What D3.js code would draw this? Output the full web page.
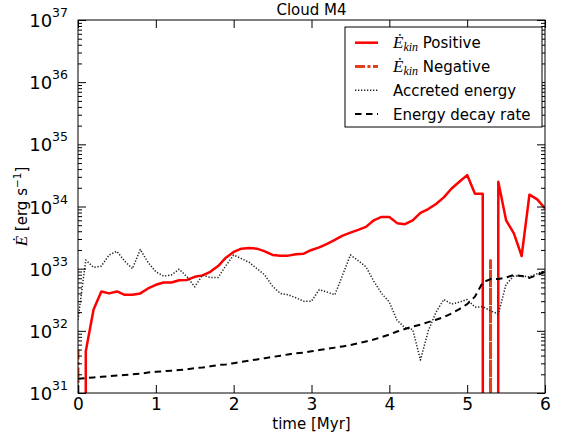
<!DOCTYPE html>
<html>
<head>
<meta charset="utf-8">
<script src="https://cdnjs.cloudflare.com/ajax/libs/d3/7.8.5/d3.min.js"></script>
<style>
  body { margin: 0; background: #fff; }
  svg { display: block; font-family: "DejaVu Sans", sans-serif; }
  .axis path, .axis line { stroke: #000; }
  .axis text { font-family: "DejaVu Sans", sans-serif; font-size: 17px; fill: #000; }
  .math { font-family: "Liberation Serif", serif; font-style: italic; }
</style>
</head>
<body>
<svg></svg>
<script>
// time axis of the simulation, Myr
var time = [
  0.0, 0.1, 0.2, 0.3, 0.4, 0.5, 0.6, 0.7, 0.8, 0.9,
  1.0, 1.1, 1.2, 1.3, 1.4, 1.5, 1.6, 1.7, 1.8, 1.9,
  2.0, 2.1, 2.2, 2.3, 2.4, 2.5, 2.6, 2.7, 2.8, 2.9,
  3.0, 3.1, 3.2, 3.3, 3.4, 3.5, 3.6, 3.7, 3.8, 3.9,
  4.0, 4.1, 4.2, 4.3, 4.4, 4.5, 4.6, 4.7, 4.8, 4.9,
  5.0, 5.1, 5.2, 5.3, 5.4, 5.5, 5.6, 5.7, 5.8, 5.9, 6.0
];

// erg/s, 0 where the sign flips (log axis clips it)
var ekinPositive = [
  0, 4.7e31, 2.2e32, 4.3e32, 4.0e32, 4.3e32, 3.8e32, 3.8e32, 4.0e32, 4.8e32,
  5.5e32, 6.0e32, 6.0e32, 6.5e32, 6.6e32, 7.4e32, 7.8e32, 8.9e32, 1.1e33, 1.5e33,
  1.86e33, 2.1e33, 2.15e33, 2.1e33, 1.9e33, 1.66e33, 1.62e33, 1.62e33, 1.7e33, 1.74e33,
  2.0e33, 2.2e33, 2.5e33, 2.9e33, 3.4e33, 3.8e33, 4.2e33, 4.7e33, 6.0e33, 6.8e33,
  6.8e33, 5.4e33, 5.2e33, 6.0e33, 7.9e33, 9.1e33, 1.1e34, 1.4e34, 1.95e34, 2.5e34,
  3.2e34, 1.6e34, 1.6e34, 0, 2.5e34, 6.0e33, 3.7e33, 1.6e33, 1.55e34, 1.3e34, 9.3e33
];

var ekinNegative = [
  5e31, 0, 0, 0, 0, 0, 0, 0, 0, 0,
  0, 0, 0, 0, 0, 0, 0, 0, 0, 0,
  0, 0, 0, 0, 0, 0, 0, 0, 0, 0,
  0, 0, 0, 0, 0, 0, 0, 0, 0, 0,
  0, 0, 0, 0, 0, 0, 0, 0, 0, 0,
  0, 0, 0, 1.35e33, 0, 0, 0, 0, 0, 0, 0
];

var accreted = [
  1.5e32, 1.38e33, 1.05e33, 1.1e33, 1.66e33, 1.9e33, 1.32e33, 1.0e33, 2.04e33, 1.26e33,
  8.9e32, 7.6e32, 7.9e32, 9.8e32, 7.4e32, 5.1e32, 7.9e32, 7.2e32, 7.2e32, 1.12e33,
  1.66e33, 1.45e33, 1.26e33, 1.0e33, 7.9e32, 5.2e32, 4.0e32, 3.8e32, 3.4e32, 3.0e32,
  3.0e32, 4.6e32, 4.2e32, 3.8e32, 7.9e32, 1.66e33, 1.35e33, 1.07e33, 6.3e32, 4.0e32,
  2.9e32, 1.48e32, 1.12e32, 1.05e32, 3.4e31, 1.0e32, 2.0e32, 3.2e32, 2.7e32, 2.9e32,
  3.2e32, 2.4e32, 2.45e32, 2.1e32, 1.86e32, 5.6e32, 7.6e32, 7.6e32, 7.4e32, 8.3e32, 9.3e32
];

var decayRate = [
  1.70e31, 1.74e31, 1.78e31, 1.82e31, 1.86e31, 1.91e31, 1.95e31, 2.0e31, 2.04e31, 2.14e31,
  2.19e31, 2.24e31, 2.29e31, 2.34e31, 2.4e31, 2.51e31, 2.57e31, 2.69e31, 2.82e31, 2.88e31,
  3.02e31, 3.16e31, 3.31e31, 3.47e31, 3.63e31, 3.8e31, 3.98e31, 4.17e31, 4.37e31, 4.47e31,
  4.68e31, 4.9e31, 5.13e31, 5.37e31, 5.62e31, 5.89e31, 6.31e31, 6.76e31, 7.24e31, 7.94e31,
  8.71e31, 9.77e31, 1.07e32, 1.17e32, 1.26e32, 1.38e32, 1.51e32, 1.66e32, 1.91e32, 2.24e32,
  2.69e32, 3.55e32, 6.0e32, 6.8e32, 6.8e32, 7.2e32, 7.9e32, 7.6e32, 7.1e32, 7.9e32, 8.9e32
];

var xTicks = [0, 1, 2, 3, 4, 5, 6];
var yExponents = [31, 32, 33, 34, 35, 36, 37];
var legendLabels = ["Positive", "Negative", "Accreted energy", "Energy decay rate"];

var width = 564;
var height = 437;
var margin = { top: 20, right: 19, bottom: 44, left: 78 };
var plotW = width - margin.left - margin.right;
var plotH = height - margin.top - margin.bottom;

var svg = d3.select("svg")
    .attr("width", width)
    .attr("height", height);

var x = d3.scaleLinear().domain([0, 6]).range([0, plotW]);
var y = d3.scaleLog().domain([1e31, 1e37]).range([plotH, 0]);

var g = svg.append("g")
    .attr("transform", "translate(" + margin.left + "," + margin.top + ")");

g.append("clipPath")
    .attr("id", "plot-clip")
  .append("rect")
    .attr("width", plotW)
    .attr("height", plotH);

// matplotlib-like clipping of non-positive values on a log axis
function clipVal(v) { return v > 0 ? v : 1e-300; }

function seriesLine(values) {
  return d3.line()
      .x((d, i) => x(time[i]))
      .y(d => y(clipVal(d)))(values);
}

var series = [
  { values: ekinPositive, color: "#ff0000", width: 2.5, dash: null },
  { values: ekinNegative, color: "#e0401c", width: 3, dash: "10,2.5,3,2.5" },
  { values: accreted, color: "#222", width: 1.5, dash: "1.3,1.7" },
  { values: decayRate, color: "#000", width: 2, dash: "6.5,4.5" }
];

var lines = g.append("g").attr("clip-path", "url(#plot-clip)");
series.forEach(s => {
  lines.append("path")
      .attr("d", seriesLine(s.values))
      .attr("fill", "none")
      .attr("stroke", s.color)
      .attr("stroke-width", s.width)
      .attr("stroke-dasharray", s.dash)
      .attr("stroke-linejoin", "round");
});

// minor log ticks (2..9 in each decade)
var minors = [];
yExponents.slice(0, -1).forEach(e => {
  [2, 3, 4, 5, 6, 7, 8, 9].forEach(m => minors.push(m * Math.pow(10, e)));
});
var majors = yExponents.map(e => Math.pow(10, e));

g.append("g").attr("class", "axis")
    .call(d3.axisLeft(y).tickValues(minors).tickSizeInner(-4).tickSizeOuter(0).tickFormat(""));
g.append("g").attr("class", "axis")
    .attr("transform", "translate(" + plotW + ",0)")
    .call(d3.axisRight(y).tickValues(minors).tickSizeInner(-4).tickSizeOuter(0).tickFormat(""));
g.append("g").attr("class", "axis")
    .attr("transform", "translate(" + plotW + ",0)")
    .call(d3.axisRight(y).tickValues(majors).tickSizeInner(-8).tickSizeOuter(0).tickFormat(""));

var yAxis = g.append("g").attr("class", "axis")
    .call(d3.axisLeft(y).tickValues(majors).tickSizeInner(-8).tickSizeOuter(0).tickPadding(10)
      .tickFormat(""));
yAxis.selectAll(".tick text").each(function(d) {
  var t = d3.select(this).attr("dy", "0.39em");
  t.append("tspan").style("font-size", "18px").text("10");
  t.append("tspan").attr("dy", -10).style("font-size", "12.5px").text(Math.round(Math.log10(d)));
});

g.append("g").attr("class", "axis")
    .attr("transform", "translate(0," + plotH + ")")
    .call(d3.axisBottom(x).tickValues(xTicks).tickSizeInner(-8).tickSizeOuter(0).tickPadding(5)
      .tickFormat(d3.format("d")));
g.append("g").attr("class", "axis")
    .call(d3.axisTop(x).tickValues(xTicks).tickSizeInner(-8).tickSizeOuter(0).tickFormat(""));

g.selectAll(".axis path.domain").remove();
g.append("rect")
    .attr("width", plotW)
    .attr("height", plotH)
    .attr("fill", "none")
    .attr("stroke", "#000")
    .attr("stroke-width", 1);

// title and axis labels
svg.append("text")
    .attr("x", margin.left + plotW / 2)
    .attr("y", 15)
    .attr("text-anchor", "middle")
    .style("font-size", "15px")
    .text("Cloud M4");

svg.append("text")
    .attr("x", margin.left + plotW / 2)
    .attr("y", 429)
    .attr("text-anchor", "middle")
    .style("font-size", "15px")
    .text("time [Myr]");

var ylab = svg.append("text")
    .attr("transform", "translate(27," + (margin.top + plotH / 2) + ") rotate(-90)")
    .attr("text-anchor", "middle")
    .style("font-size", "15px");
ylab.append("tspan").attr("class", "math").style("font-size", "17px").text("Ė");
ylab.append("tspan").text(" [erg s");
ylab.append("tspan").attr("dy", -6).style("font-size", "10.5px").text("−1");
ylab.append("tspan").attr("dy", 6).text("]");

// legend
var legend = svg.append("g").attr("transform", "translate(345,27)");
legend.append("rect")
    .attr("width", 197)
    .attr("height", 100)
    .attr("fill", "#fff")
    .attr("stroke", "#000")
    .attr("stroke-width", 1);

series.forEach((s, i) => {
  var row = legend.append("g").attr("transform", "translate(0," + (15.7 + i * 23.8) + ")");
  row.append("line")
      .attr("x1", 10).attr("x2", 33)
      .attr("stroke", s.color)
      .attr("stroke-width", s.width)
      .attr("stroke-dasharray", s.dash);
  var t = row.append("text")
      .attr("x", 48)
      .attr("y", 5.5)
      .style("font-size", "15px");
  if (i < 2) {
    t.append("tspan").attr("class", "math").style("font-size", "17px").text("Ė");
    t.append("tspan").attr("class", "math").attr("dy", 3).style("font-size", "12px").text("kin");
    t.append("tspan").attr("dy", -3).text(" " + legendLabels[i]);
  } else {
    t.text(legendLabels[i]);
  }
});
</script>
</body>
</html>
